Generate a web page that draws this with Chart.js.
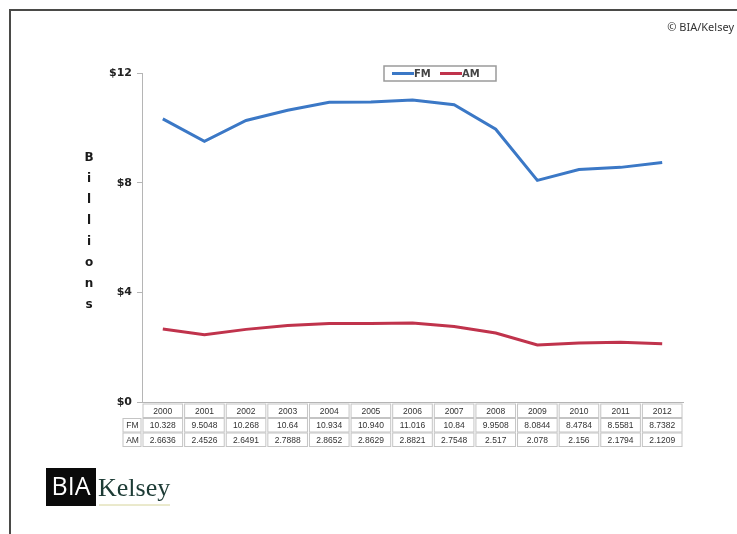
<!DOCTYPE html>
<html>
<head>
<meta charset="utf-8">
<script src="https://cdn.jsdelivr.net/npm/chart.js@4/dist/chart.umd.min.js"></script>
<style>
html,body{margin:0;padding:0;background:#fff;}
#wrap{position:relative;width:737px;height:534px;}
</style>
</head>
<body>
<div id="wrap"><canvas id="c" width="737" height="534"></canvas></div>
<script>
const years = ['2000','2001','2002','2003','2004','2005','2006','2007','2008','2009','2010','2011','2012'];
const fmValues = [10.328, 9.5048, 10.268, 10.64, 10.934, 10.94, 11.016, 10.84, 9.9508, 8.0844, 8.4784, 8.5581, 8.7382];
const amValues = [2.6636, 2.4526, 2.6491, 2.7888, 2.8652, 2.8629, 2.8821, 2.7548, 2.517, 2.078, 2.156, 2.1794, 2.1209];
const fmTableText = ['10.328','9.5048','10.268','10.64','10.934','10.940','11.016','10.84','9.9508','8.0844','8.4784','8.5581','8.7382'];
const amTableText = ['2.6636','2.4526','2.6491','2.7888','2.8652','2.8629','2.8821','2.7548','2.517','2.078','2.156','2.1794','2.1209'];
const yTicks = [0, 4, 8, 12];
const yTitle = 'Billions';
const seriesNames = ['FM', 'AM'];
const seriesColors = ['#3b78c6', '#c0334c'];

const decorPlugin = {
  id: 'decor',
  beforeDraw(chart) {
    const ctx = chart.ctx;
    ctx.save();
    ctx.fillStyle = '#fff';
    ctx.fillRect(0, 0, chart.width, chart.height);
    ctx.strokeStyle = '#4a4a48';
    ctx.lineWidth = 2;
    ctx.beginPath();
    ctx.moveTo(10, chart.height);
    ctx.lineTo(10, 10);
    ctx.lineTo(chart.width, 10);
    ctx.stroke();
    ctx.restore();
  },
  afterDraw(chart) {
    const ctx = chart.ctx;
    const xs = chart.scales.x;
    const ca = chart.chartArea;
    ctx.save();
    // copyright
    ctx.fillStyle = '#333';
    ctx.font = '11px "Noto Sans", "Liberation Sans", sans-serif';
    ctx.textAlign = 'right';
    ctx.textBaseline = 'middle';
    ctx.fillText('\u00A9 BIA/Kelsey', 734, 28);

    // Y title stacked letters
    ctx.fillStyle = '#1a1a1a';
    ctx.font = 'bold 12px "DejaVu Sans", sans-serif';
    ctx.textAlign = 'center';
    yTitle.split('').forEach((ch, i) => {
      ctx.fillText(ch, 89, 158 + i * 21);
    });

    // legend
    const lx = 384, ly = 66, lw = 112, lh = 15;
    ctx.strokeStyle = '#9a9a9a';
    ctx.lineWidth = 1.5;
    ctx.strokeRect(lx, ly, lw, lh);
    ctx.font = 'bold 10px "DejaVu Sans", sans-serif';
    ctx.textAlign = 'left';
    let cx = lx + 8;
    chart.data.datasets.forEach((ds) => {
      ctx.strokeStyle = ds.borderColor;
      ctx.lineWidth = 3;
      ctx.beginPath();
      ctx.moveTo(cx, ly + lh / 2);
      ctx.lineTo(cx + 22, ly + lh / 2);
      ctx.stroke();
      ctx.fillStyle = '#444';
      ctx.fillText(ds.label, cx + 22, ly + lh / 2 + 0.5);
      cx += 48;
    });

    // data table
    const half = (xs.getPixelForValue(1) - xs.getPixelForValue(0)) / 2;
    const rowTop = ca.bottom + 1;
    const rowH = 14.5;
    ctx.strokeStyle = '#c4c4c4';
    ctx.lineWidth = 1;
    ctx.font = '8.5px "Liberation Sans", sans-serif';
    ctx.textAlign = 'center';
    ctx.fillStyle = '#333';
    const rows = [years, fmTableText, amTableText];
    rows.forEach((row, r) => {
      const y0 = rowTop + r * rowH;
      row.forEach((txt, i) => {
        const c = xs.getPixelForValue(i);
        ctx.strokeRect(c - half + 1, y0 + 1, 2 * half - 2, rowH - 1);
        ctx.fillText(txt, c, y0 + rowH / 2 + 1);
      });
    });
    seriesNames.forEach((name, r) => {
      const y0 = rowTop + (r + 1) * rowH;
      ctx.strokeRect(123, y0 + 1, ca.left - 123 - 1, rowH - 1);
      ctx.fillText(name, (123 + ca.left) / 2, y0 + rowH / 2 + 1);
    });

    // Logo
    ctx.fillStyle = '#0a0a0a';
    ctx.fillRect(46, 468, 50, 38);
    ctx.fillStyle = '#fff';
    ctx.font = '25px "Open Sans", "Noto Sans", sans-serif';
    ctx.textAlign = 'center';
    ctx.fillText('BIA', 71, 488);
    ctx.fillStyle = '#1d3b35';
    ctx.font = '26px "Liberation Serif", serif';
    ctx.textAlign = 'left';
    ctx.fillText('Kelsey', 98, 489);
    ctx.strokeStyle = '#d6d49a';
    ctx.lineWidth = 1;
    ctx.beginPath();
    ctx.moveTo(99, 505);
    ctx.lineTo(170, 505);
    ctx.stroke();
    ctx.restore();
  }
};

new Chart(document.getElementById('c'), {
  type: 'line',
  data: {
    labels: years,
    datasets: [
      { label: seriesNames[0], data: fmValues, borderColor: seriesColors[0], backgroundColor: seriesColors[0], borderWidth: 3, pointRadius: 0, tension: 0 },
      { label: seriesNames[1], data: amValues, borderColor: seriesColors[1], backgroundColor: seriesColors[1], borderWidth: 3, pointRadius: 0, tension: 0 }
    ]
  },
  options: {
    responsive: false,
    animation: false,
    devicePixelRatio: 1,
    layout: { padding: { left: 0, right: 54, top: 73, bottom: 0 } },
    plugins: { legend: { display: false }, tooltip: { enabled: false }, title: { display: false } },
    scales: {
      x: {
        offset: true,
        grid: { display: false },
        border: { display: true, color: '#b5b5b5', width: 1 },
        ticks: { display: false },
        afterFit(s) { s.height = 132; }
      },
      y: {
        min: 0, max: 12,
        afterBuildTicks(s) { s.ticks = yTicks.map(v => ({ value: v })); },
        grid: { display: true, drawOnChartArea: false, drawTicks: true, tickLength: 5, color: '#b5b5b5' },
        border: { display: true, color: '#b5b5b5', width: 1 },
        ticks: {
          padding: 5,
          color: '#222',
          font: { family: '"DejaVu Sans", sans-serif', weight: 'bold', size: 11 },
          callback: v => '$' + v
        },
        afterFit(s) { s.width = 142; }
      }
    }
  },
  plugins: [decorPlugin]
});
</script>
</body>
</html>
